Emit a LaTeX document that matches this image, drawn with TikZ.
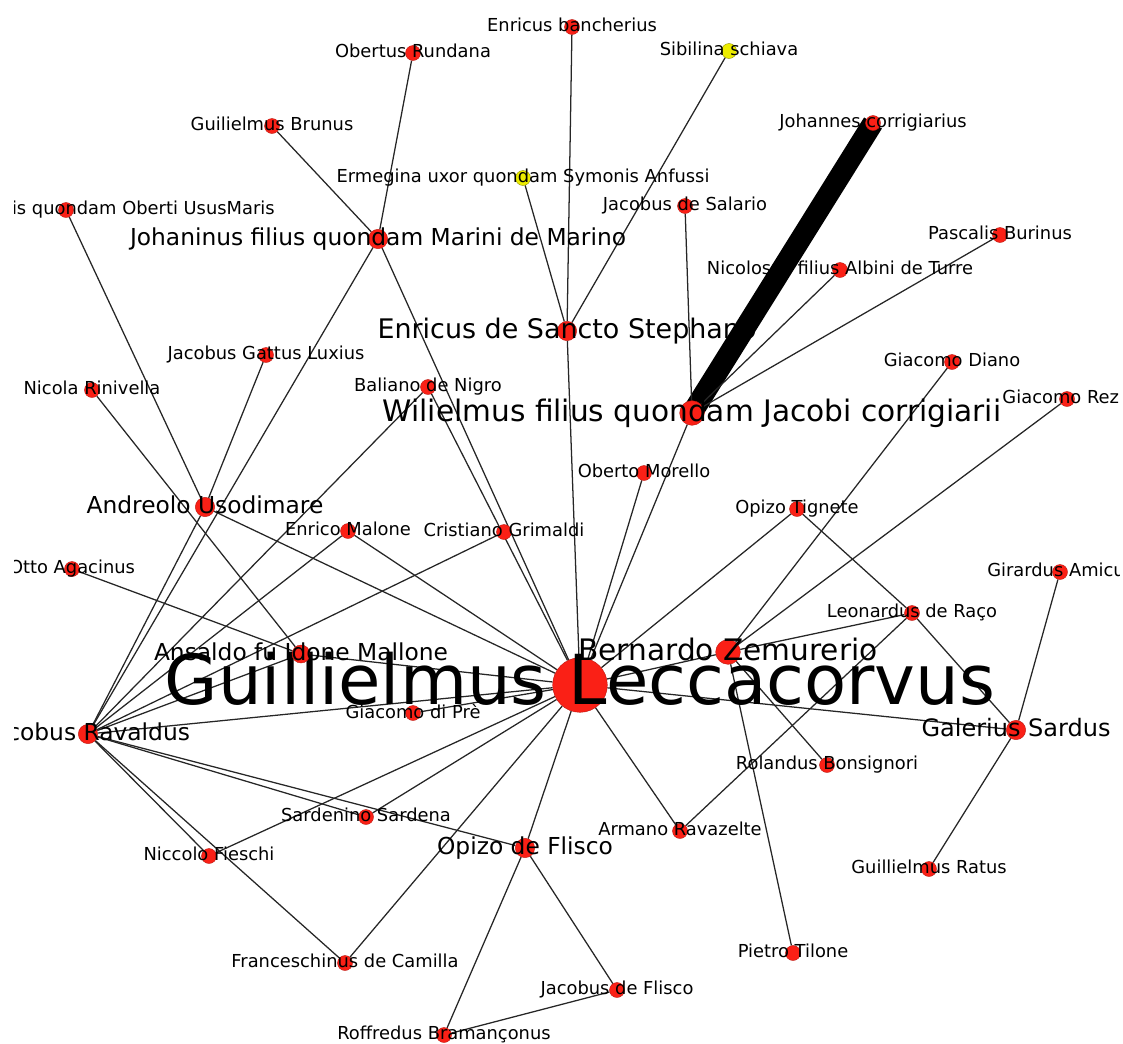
\documentclass[tikz,border=0pt]{standalone}
\usepackage{fontspec}
\setmainfont{DejaVu Sans}
\usetikzlibrary{backgrounds}

\definecolor{nodered}{RGB}{250,32,22}
\definecolor{nodeyellow}{RGB}{236,236,0}

\begin{document}
\begin{tikzpicture}[
    x=0.75pt, y=-0.75pt,
    person/.style = {
        circle,
        fill=nodered,
        draw=nodered!75!black,
        line width=0.3pt,
        inner sep=0pt,
        minimum size=11.25pt
    },
    guest/.style = {
        person,
        fill=nodeyellow,
        draw=nodeyellow!60!black
    },
    midperson/.style = {person, minimum size=14.5pt},
    bigperson/.style = {person, minimum size=18.5pt},
    hub/.style = {person, minimum size=41pt},
    smalltext/.style = {
        inner sep=0pt,
        font=\fontsize{13.4}{16}\selectfont,
        execute at begin node={\vphantom{lg}}
    },
    midtext/.style = {smalltext, font=\fontsize{17.5}{21}\selectfont},
    bigtext/.style = {smalltext, font=\fontsize{22.2}{26}\selectfont},
    hugetext/.style = {smalltext, font=\fontsize{51.7}{60}\selectfont},
    link/.style = {draw=black!85, line width=0.95pt},
    strong link/.style = {draw=black, line width=15.75pt}
]

\useasboundingbox (0,0) rectangle (1123,1043);

\begin{scope}
\clip (14,0) rectangle (1119,1043);

% hubs
\node (lecca) [hub, label={[hugetext]center:Guillielmus Leccacorvus}] at (580,685) {};
\node (bernardo) [bigperson, label={[bigtext]center:Bernardo Zemurerio}] at (728,652) {};
\node (wilielmus) [bigperson, label={[bigtext]center:Wilielmus filius quondam Jacobi corrigiarii}] at (692,413) {};
\node (stephano) [midperson, label={[smalltext, font=\fontsize{20.2}{24}\selectfont]center:Enricus de Sancto Stephano}] at (567,331) {};
\node (johaninus) [midperson, label={[midtext]center:Johaninus filius quondam Marini de Marino}] at (378,239) {};
\node (andreolo) [midperson, label={[midtext]center:Andreolo Usodimare}] at (205,507) {};
\node (ravaldus) [midperson, label={[midtext]center:Jacobus Ravaldus}] at (88,734) {};
\node (ansaldo) [midperson, minimum size=13.5pt, label={[midtext]center:Ansaldo fu Idone Mallone}] at (301,654) {};
\node (opizo) [midperson, label={[midtext]center:Opizo de Flisco}] at (525,848) {};
\node (galerius) [midperson, label={[midtext, font=\fontsize{18}{22}\selectfont]center:Galerius Sardus}] at (1016,730) {};

% others
\node (bancherius) [person, label={[smalltext]center:Enricus bancherius}] at (572,27) {};
\node (rundana) [person, label={[smalltext]center:Obertus Rundana}] at (413,53) {};
\node (sibilina) [guest, label={[smalltext]center:Sibilina schiava}] at (729,51) {};
\node (johannes) [person, label={[smalltext]center:Johannes corrigiarius}] at (873,123) {};
\node (brunus) [person, label={[smalltext]center:Guilielmus Brunus}] at (272,126) {};
\node (ermegina) [guest, label={[smalltext]center:Ermegina uxor quondam Symonis Anfussi}] at (523,178) {};
\node (salario) [person, label={[smalltext]center:Jacobus de Salario}] at (685,206) {};
\node (ususmaris) [person, label={[smalltext, xshift=58pt]center:is quondam Oberti UsusMaris}] at (66,210) {};
\node (pascalis) [person, label={[smalltext]center:Pascalis Burinus}] at (1000,235) {};
\node (nicolosus) [person, label={[smalltext]center:Nicolosus filius Albini de Turre}] at (840,270) {};
\node (gattus) [person, label={[smalltext]center:Jacobus Gattus Luxius}] at (266,355) {};
\node (diano) [person, label={[smalltext]center:Giacomo Diano}] at (952,362) {};
\node (rinivella) [person, label={[smalltext]center:Nicola Rinivella}] at (92,390) {};
\node (baliano) [person, label={[smalltext]center:Baliano de Nigro}] at (428,387) {};
\node (rez) [person, label={[smalltext, xshift=-4.7pt]center:Giacomo Rez}] at (1067,399) {};
\node (morello) [person, label={[smalltext]center:Oberto Morello}] at (644,473) {};
\node (tignete) [person, label={[smalltext]center:Opizo Tignete}] at (797,509) {};
\node (malone) [person, label={[smalltext]center:Enrico Malone}] at (348,531) {};
\node (grimaldi) [person, label={[smalltext]center:Cristiano Grimaldi}] at (504,532) {};
\node (otto) [person, label={[smalltext]center:Otto Agacinus}] at (72,569) {};
\node (amicus) [person, label={[smalltext, xshift=-3pt]center:Girardus Amicu}] at (1060,572) {};
\node (raco) [person, label={[smalltext]center:Leonardus de Raço}] at (912,613) {};
\node (pre) [person, label={[smalltext]center:Giacomo di Prè}] at (413,713) {};
\node (bonsignori) [person, label={[smalltext]center:Rolandus Bonsignori}] at (827,765) {};
\node (sardenino) [person, label={[smalltext]center:Sardenino Sardena}] at (366,817) {};
\node (armano) [person, label={[smalltext]center:Armano Ravazelte}] at (680,831) {};
\node (fieschi) [person, label={[smalltext]center:Niccolo Fieschi}] at (209,856) {};
\node (ratus) [person, label={[smalltext]center:Guillielmus Ratus}] at (929,869) {};
\node (tilone) [person, label={[smalltext]center:Pietro Tilone}] at (793,953) {};
\node (camilla) [person, label={[smalltext]center:Franceschinus de Camilla}] at (345,963) {};
\node (jacflisco) [person, label={[smalltext]center:Jacobus de Flisco}] at (617,990) {};
\node (roffredus) [person, label={[smalltext]center:Roffredus Bramançonus}] at (444,1035) {};
\end{scope}

\begin{scope}[on background layer]
% ties of Guillielmus Leccacorvus
\draw [link] (lecca) -- (stephano);
\draw [link] (lecca) -- (wilielmus);
\draw [link] (lecca) -- (morello);
\draw [link] (lecca) -- (johaninus);
\draw [link] (lecca) -- (baliano);
\draw [link] (lecca) -- (andreolo);
\draw [link] (lecca) -- (malone);
\draw [link] (lecca) -- (ansaldo);
\draw [link] (lecca) -- (pre);
\draw [link] (lecca) -- (ravaldus);
\draw [link] (lecca) -- (sardenino);
\draw [link] (lecca) -- (fieschi);
\draw [link] (lecca) -- (camilla);
\draw [link] (lecca) -- (opizo);
\draw [link] (lecca) -- (armano);
\draw [link] (lecca) -- (bernardo);
\draw [link] (lecca) -- (galerius);
\draw [link] (lecca) -- (tignete);

\draw [link] (bernardo) -- (diano);
\draw [link] (bernardo) -- (rez);
\draw [link] (bernardo) -- (raco);
\draw [link] (bernardo) -- (bonsignori);
\draw [link] (bernardo) -- (tilone);

\draw [strong link] (wilielmus.center) -- (johannes.center);
\draw [link] (wilielmus) -- (nicolosus);
\draw [link] (wilielmus) -- (pascalis);
\draw [link] (wilielmus) -- (salario);

\draw [link] (stephano) -- (bancherius);
\draw [link] (stephano) -- (sibilina);
\draw [link] (stephano) -- (ermegina);

\draw [link] (johaninus) -- (rundana);
\draw [link] (johaninus) -- (brunus);
\draw [link] (johaninus) -- (ravaldus);

\draw [link] (andreolo) -- (ususmaris);
\draw [link] (andreolo) -- (gattus);
\draw [link] (andreolo) -- (ravaldus);

\draw [link] (ansaldo) -- (otto);
\draw [link] (ansaldo) -- (rinivella);
\draw [link] (ansaldo) -- (ravaldus);

% ties of Jacobus Ravaldus
\draw [link] (ravaldus) -- (baliano);
\draw [link] (ravaldus) -- (malone);
\draw [link] (ravaldus) -- (grimaldi);
\draw [link] (ravaldus) -- (sardenino);
\draw [link] (ravaldus) -- (opizo);
\draw [link] (ravaldus) -- (fieschi);
\draw [link] (ravaldus) -- (camilla);

\draw [link] (opizo) -- (roffredus);
\draw [link] (opizo) -- (jacflisco);
\draw [link] (roffredus) -- (jacflisco);

\draw [link] (armano) -- (raco);
\draw [link] (tignete) -- (raco);
\draw [link] (raco) -- (galerius);
\draw [link] (galerius) -- (amicus);
\draw [link] (galerius) -- (ratus);
\end{scope}

\end{tikzpicture}
\end{document}
